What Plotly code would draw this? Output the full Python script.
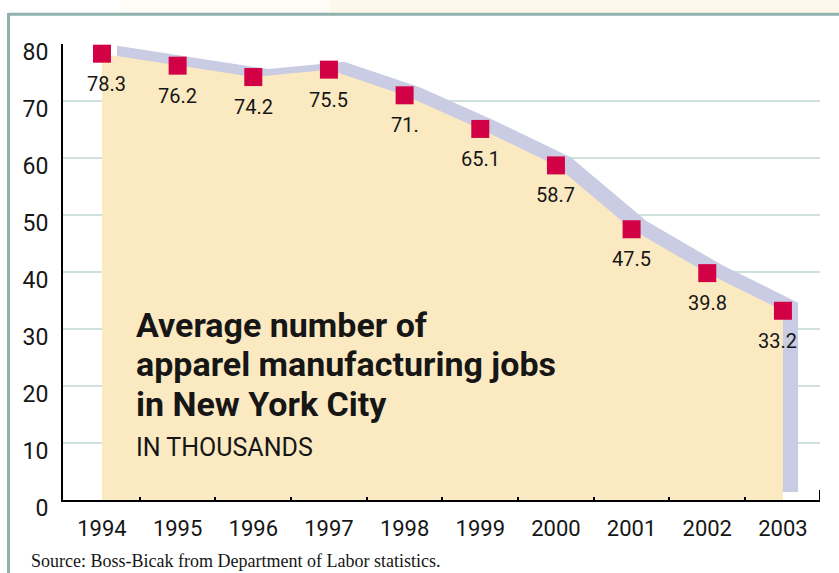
import plotly.graph_objects as go

years = [1994, 1995, 1996, 1997, 1998, 1999, 2000, 2001, 2002, 2003]
jobs = [78.3, 76.2, 74.2, 75.5, 71.0, 65.1, 58.7, 47.5, 39.8, 33.2]
labels = ["78.3", "76.2", "74.2", "75.5", "71.", "65.1", "58.7", "47.5", "39.8", "33.2"]
y_ticks = [0, 10, 20, 30, 40, 50, 60, 70, 80]
title_lines = ["Average number of", "apparel manufacturing jobs", "in New York City"]
subtitle = "IN THOUSANDS"
source = "Source: Boss-Bicak from Department of Labor statistics."

W, H = 839, 573
ML, MR, MT, MB = 63, 19, 44, 73
PW, PH = W - ML - MR, H - MT - MB


def px_x(px):
    return (px - ML) / PW


def px_y(py):
    return (H - MB - py) / PH


FILL = "#fbeac1"
SHADOW = "#c9cce3"
MARK = "#d20044"
GRID = "#cfe1dd"
BORDER = "#8fb2af"
TXT = "#161616"

# shadow offset (in data units) of the 3-D band
dx, dy = 0.2, 1.4

x_range = [years[0] - 0.515, years[-1] + 0.49]
boundaries = [x + 0.5 for x in years[:-1]]

fig = go.Figure()

fig.add_trace(go.Scatter(
    x=[x + dx for x in years] + [years[-1] + dx, years[0] + dx],
    y=[v + dy for v in jobs] + [dy, dy],
    fill="toself", fillcolor=SHADOW, mode="lines", line=dict(width=0),
    hoverinfo="skip", showlegend=False))

fig.add_trace(go.Scatter(
    x=years + [years[-1], years[0]],
    y=jobs + [0, 0],
    fill="toself", fillcolor=FILL, mode="lines", line=dict(width=0),
    hoverinfo="skip", showlegend=False))

fig.add_trace(go.Scatter(
    x=years, y=jobs, mode="markers",
    marker=dict(symbol="square", size=18, color=MARK, line=dict(width=0)),
    cliponaxis=False, showlegend=False))

annotations = []
for i, (x, v, t) in enumerate(zip(years, jobs, labels)):
    xs = 5 if i == 0 else (-5 if i == len(years) - 1 else 0)
    annotations.append(dict(
        x=x, y=v, xref="x", yref="y", text=t, showarrow=False,
        yshift=-30, xshift=xs, xanchor="center", yanchor="middle",
        font=dict(family="Roboto", size=20, color=TXT)))

title_centers = [325, 364, 404]
for line, cy in zip(title_lines, title_centers):
    annotations.append(dict(
        x=px_x(134), y=px_y(cy), xref="paper", yref="paper", text=line,
        showarrow=False, xanchor="left", yanchor="middle",
        font=dict(family="Roboto", size=34, color=TXT, weight="bold")))

annotations.append(dict(
    x=px_x(134), y=px_y(447), xref="paper", yref="paper", text=subtitle,
    showarrow=False, xanchor="left", yanchor="middle",
    font=dict(family="Roboto", size=25, color=TXT)))

annotations.append(dict(
    x=px_x(29), y=px_y(561), xref="paper", yref="paper", text=source,
    showarrow=False, xanchor="left", yanchor="middle",
    font=dict(family="Liberation Serif", size=18, color=TXT)))

shapes = [
    # light cream band above the frame
    dict(type="rect", xref="paper", yref="paper", x0=px_x(120), x1=px_x(330),
         y0=px_y(13), y1=px_y(0), fillcolor="#fffcf7", line=dict(width=0), layer="below"),
    dict(type="rect", xref="paper", yref="paper", x0=px_x(330), x1=px_x(839),
         y0=px_y(13), y1=px_y(0), fillcolor="#fef7ec", line=dict(width=0), layer="below"),
    # frame lines
    dict(type="line", xref="paper", yref="paper", x0=px_x(8.5), x1=px_x(839),
         y0=px_y(14.2), y1=px_y(14.2), line=dict(color=BORDER, width=3)),
    dict(type="line", xref="paper", yref="paper", x0=px_x(8.5), x1=px_x(8.5),
         y0=px_y(13), y1=px_y(573), line=dict(color=BORDER, width=3)),
]

# short closing tick at the right end of the x axis
fig.add_trace(go.Scatter(
    x=[x_range[1], x_range[1]], y=[0, 1.75], mode="lines",
    line=dict(color="black", width=2), cliponaxis=False,
    hoverinfo="skip", showlegend=False))

fig.update_layout(
    width=W, height=H,
    margin=dict(l=ML, r=MR, t=MT, b=MB),
    paper_bgcolor="white", plot_bgcolor="white",
    showlegend=False,
    annotations=annotations,
    shapes=shapes,
    xaxis=dict(
        range=x_range, tickvals=years, ticktext=[str(y) for y in years],
        showgrid=False, zeroline=False, showline=True, linecolor="black",
        linewidth=2, ticks="", ticklabelstandoff=8,
        tickfont=dict(family="Roboto", size=22, color=TXT),
        minor=dict(tickvals=boundaries, ticks="inside", ticklen=3,
                   tickcolor="black", tickwidth=1.5, showgrid=False),
        fixedrange=True),
    yaxis=dict(
        range=[0, 80], tickvals=y_ticks, showgrid=True, gridcolor=GRID,
        gridwidth=2, zeroline=False, showline=True, linecolor="black",
        linewidth=2, ticks="", ticklabelstandoff=8, ticklabelshift=8,
        tickfont=dict(family="Roboto", size=23, color=TXT),
        fixedrange=True),
)

fig.write_html("out.html", config={"displayModeBar": False},
               post_script="document.body.style.margin='0';document.body.style.padding='0';")
